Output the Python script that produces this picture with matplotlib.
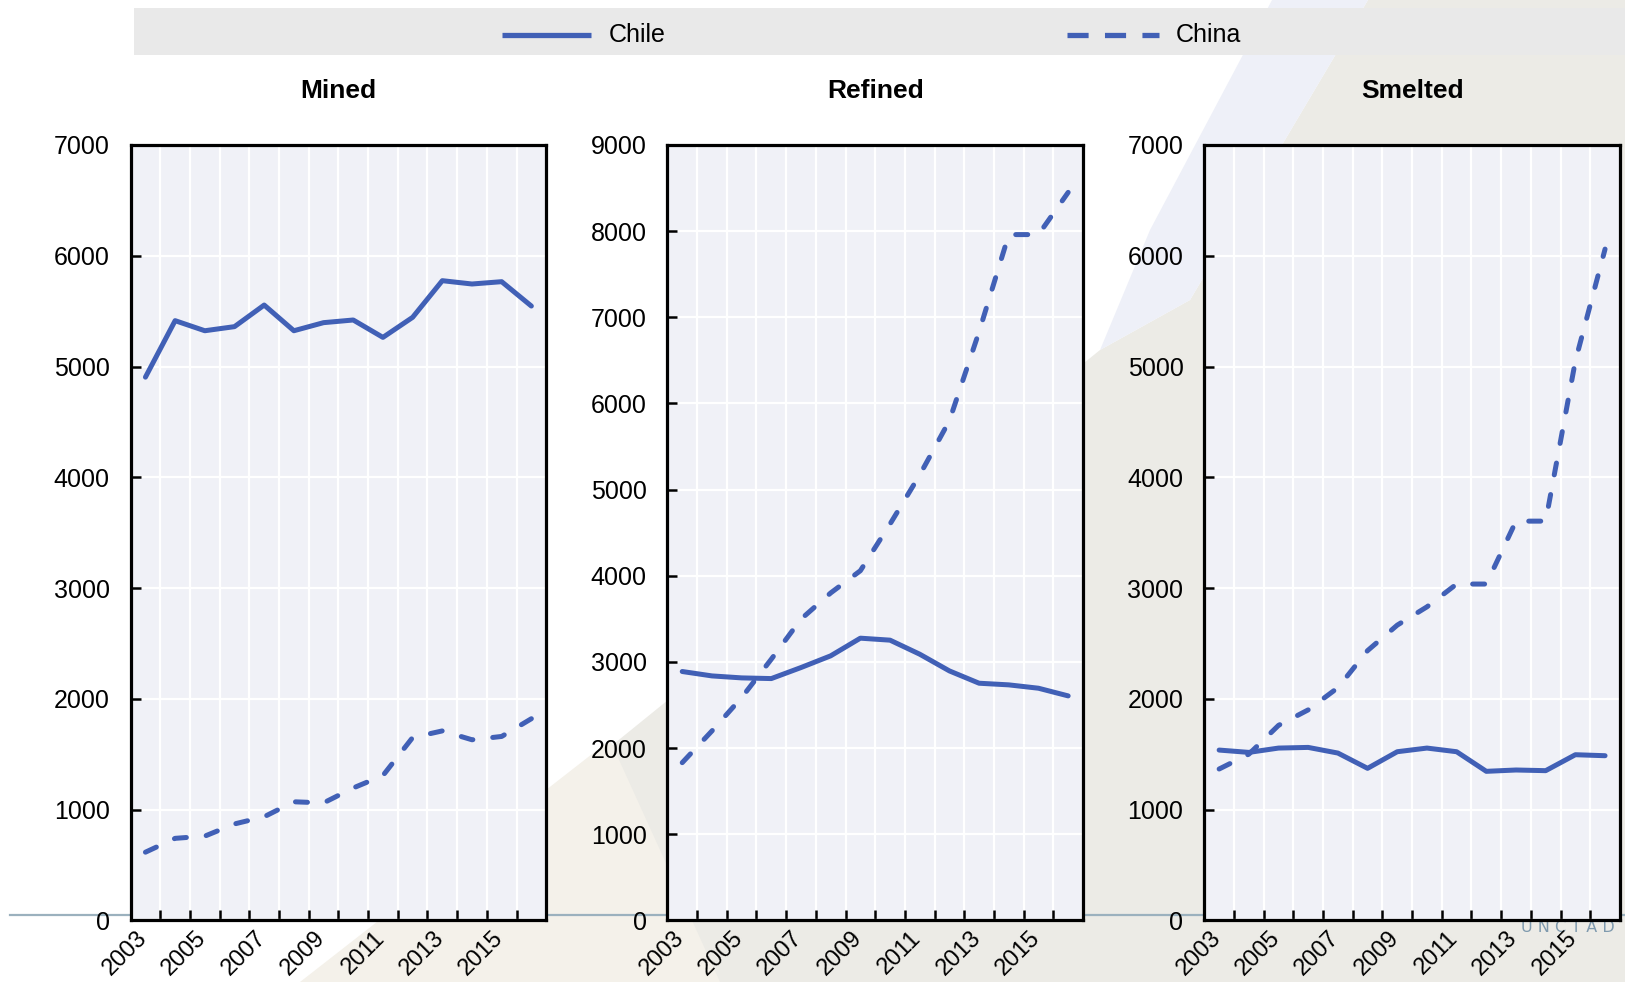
import matplotlib
matplotlib.use("Agg")
import matplotlib.pyplot as plt
from matplotlib import font_manager
from matplotlib.patches import Polygon, Rectangle
from matplotlib.lines import Line2D
import numpy as np

# ---- data (thousand tonnes of copper) ----
years = list(range(2003, 2017))
year_labels = [str(y) for y in years[::2]]

mined_chile = [4904, 5414, 5323, 5360, 5555, 5323, 5396, 5420, 5263, 5444, 5775, 5745, 5766, 5546]
mined_china = [615, 740, 760, 870, 935, 1070, 1060, 1195, 1307, 1650, 1710, 1630, 1660, 1820]

refined_chile = [2888, 2837, 2814, 2806, 2934, 3070, 3275, 3252, 3089, 2895, 2752, 2733, 2694, 2605]
refined_china = [1830, 2198, 2585, 3031, 3496, 3800, 4058, 4600, 5170, 5800, 6833, 7960, 7960, 8450]

smelted_chile = [1537, 1516, 1555, 1561, 1510, 1372, 1522, 1555, 1522, 1345, 1357, 1351, 1495, 1486]
smelted_china = [1366, 1500, 1760, 1900, 2100, 2435, 2665, 2830, 3036, 3036, 3604, 3604, 5050, 6060]

panel_titles = ["Mined", "Refined", "Smelted"]
panel_ymax = [7000, 9000, 7000]
series_names = ["Chile", "China"]

# ---- styling ----
W, H = 1625, 982
BLUE = "#4160B6"
FACE = "#F0F1F7"

available = {f.name for f in font_manager.fontManager.ttflist}
if "Liberation Sans Narrow" in available:
    FONT = "Liberation Sans Narrow"
    YT_FS, XT_FS, TITLE_FS, LEG_FS = 21, 20, 21, 21
else:
    FONT = "Liberation Sans"
    YT_FS, XT_FS, TITLE_FS, LEG_FS = 18, 17, 19, 18
plt.rcParams["font.family"] = [FONT, "DejaVu Sans"]


def fx(px):
    return px / W


def fy(py):
    return 1 - py / H


fig = plt.figure(figsize=(W / 100, H / 100), dpi=100)
fig.patch.set_facecolor("white")

# ---- decorative backdrop ----
bg_gray = [(320, 982), (1100, 350), (1190, 300), (1368, 0), (1625, 0), (1625, 982)]
bg_lav = [(1272, 0), (1368, 0), (1190, 300), (1100, 350), (1150, 230)]
bg_light = [(300, 982), (610, 740), (720, 982)]
for pts, col in [(bg_gray, "#ECEBE6"), (bg_lav, "#EEF0F8"), (bg_light, "#F4F1EA")]:
    fig.patches.append(Polygon([(fx(x), fy(y)) for x, y in pts], closed=True,
                               transform=fig.transFigure, facecolor=col,
                               edgecolor="none", zorder=-3))
fig.lines.append(Line2D([fx(10), fx(1625)], [fy(915), fy(915)], transform=fig.transFigure,
                        color="#9BB1BE", lw=1.6, zorder=-2))
fig.text(fx(1521), fy(928), "U N C T A D", color="#7F9AAE", fontsize=11.5,
         ha="left", va="center", zorder=-2, family="DejaVu Sans")

# ---- panels ----
ax_lefts = [130.6, 667.4, 1204.3]
ax_w = 415.6
ax_top, ax_bottom = 145, 920.3
data = [(mined_chile, mined_china), (refined_chile, refined_china),
        (smelted_chile, smelted_china)]
LABEL_NUDGE = 0.2  # year labels sit slightly right of their year

for left, title, ymax, (chile, china) in zip(ax_lefts, panel_titles, panel_ymax, data):
    ax = fig.add_axes([fx(left), fy(ax_bottom), ax_w / W, (ax_bottom - ax_top) / H])
    ax.set_facecolor(FACE)
    ax.set_xlim(2002.5, 2016.5)
    ax.set_ylim(0, ymax)

    ax.set_xticks(np.arange(years[0] + 0.5, years[-1], 1.0))
    ax.set_xticks(np.array(years[::2]) + LABEL_NUDGE, minor=True)
    ax.set_xticklabels([], minor=False)
    ax.set_xticklabels(year_labels, minor=True, rotation=45, ha="right",
                       fontsize=XT_FS)
    ax.tick_params(axis="x", which="major", direction="in", length=7, width=1.8,
                   color="black")
    ax.tick_params(axis="x", which="minor", length=0, pad=5)

    ax.set_yticks(np.arange(0, ymax + 1, 1000))
    ax.set_yticklabels([str(v) for v in range(0, ymax + 1, 1000)], fontsize=YT_FS)
    ax.tick_params(axis="y", direction="in", length=7, width=1.8, pad=15, color="black")

    ax.grid(True, which="major", color="white", lw=1.6)
    ax.set_axisbelow(True)
    for sp in ax.spines.values():
        sp.set_linewidth(2.3)
        sp.set_color("black")

    ax.plot(years, chile, color=BLUE, lw=3.6, solid_capstyle="round",
            solid_joinstyle="round", zorder=3)
    ax.plot(years, china, color=BLUE, lw=3.6, dashes=(2.4, 4.0),
            dash_capstyle="round", zorder=3)

    fig.text(fx(left + ax_w / 2), fy(91), title, ha="center", va="center",
             fontsize=TITLE_FS, fontweight="bold")

# ---- legend strip ----
fig.patches.append(Rectangle((fx(133.7), fy(55)), fx(1625) - fx(133.7), fy(8.3) - fy(55),
                             transform=fig.transFigure, facecolor="#E9E9E9",
                             edgecolor="none", zorder=1))
leg_y = fy(35)
fig.lines.append(Line2D([fx(502), fx(591)], [leg_y, leg_y], transform=fig.transFigure,
                        color=BLUE, lw=3.8, solid_capstyle="butt", zorder=2))
fig.text(fx(609), leg_y, series_names[0], ha="left", va="center", fontsize=LEG_FS, zorder=2)
fig.lines.append(Line2D([fx(1067), fx(1159)], [leg_y, leg_y], transform=fig.transFigure,
                        color=BLUE, lw=3.8, dashes=(4.0, 3.1), dash_capstyle="butt",
                        zorder=2))
fig.text(fx(1176), leg_y, series_names[1], ha="left", va="center", fontsize=LEG_FS, zorder=2)

fig.savefig("out.png", dpi=100)
